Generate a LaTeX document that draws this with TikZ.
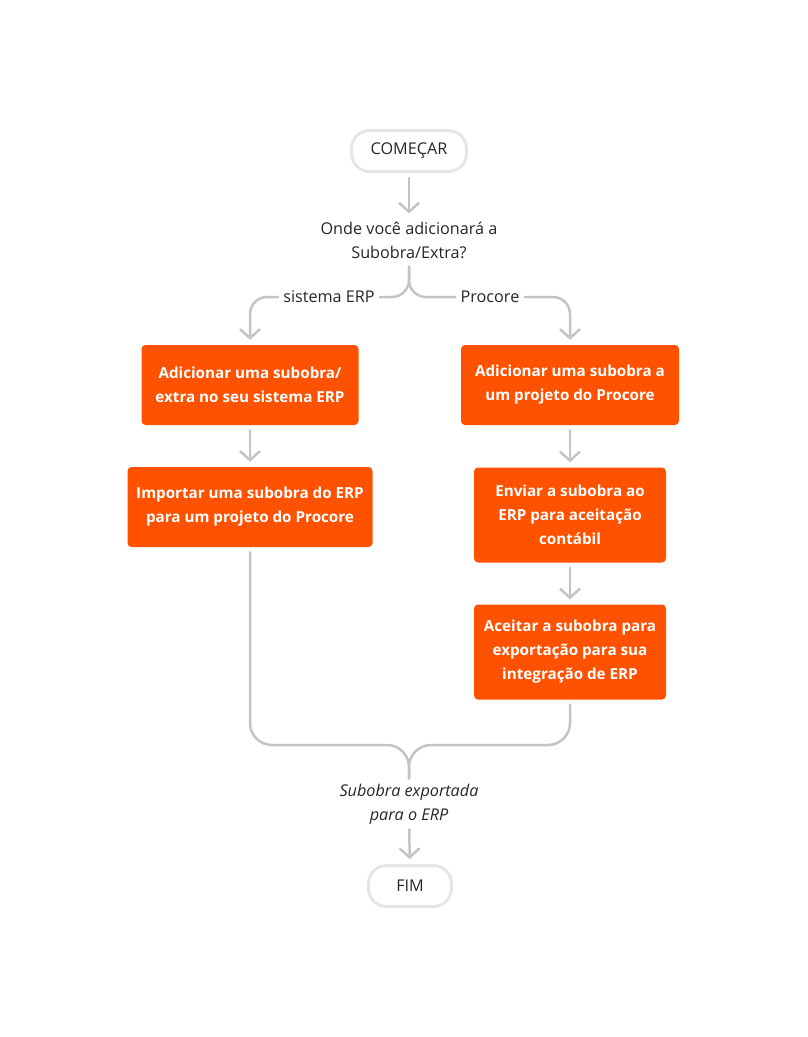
\documentclass[tikz,border=0pt]{standalone}
\usepackage{fontspec}
\setmainfont{Open Sans}
\usetikzlibrary{arrows.meta}
\definecolor{procore}{HTML}{FF5200}
\definecolor{linegray}{HTML}{C4C4C4}
\definecolor{termgray}{HTML}{E6E6E6}
\definecolor{textdark}{HTML}{232729}
\tikzset{
  term/.style={draw=termgray, line width=3pt, fill=white, rounded corners=18pt,
    minimum height=41pt, text=textdark, font=\fontsize{16.2}{24}\selectfont},
  task/.style={fill=procore, rounded corners=4pt, text=white, align=center,
    font=\bfseries\fontsize{15.2}{24}\selectfont},
  plain/.style={text=textdark, align=center, inner sep=5pt,
    font=\fontsize{16.2}{24}\selectfont},
  flow/.style={draw=linegray, line width=2.5pt, line cap=round},
  tip/.style={-{Straight Barb[length=9pt,width=20pt]}},
}
\begin{document}
\begin{tikzpicture}[x=1pt,y=-1pt]
  \useasboundingbox (0,0) rectangle (807,1037);
  \node[term, minimum width=115pt] (start) at (409,151) {COMEÇAR};
  \node[plain] (ask) at (409,240) {Onde você adicionará a\\Subobra/Extra?};
  \node[plain] (erp) at (329,297) {sistema ERP};
  \node[plain] (proc) at (490,297) {Procore};
  \node[task, minimum width=217pt, minimum height=80pt] (addErp) at (250,385)
    {Adicionar uma subobra/\\extra no seu sistema ERP};
  \node[task, minimum width=218pt, minimum height=80pt] (addProc) at (570,385)
    {Adicionar uma subobra a\\um projeto do Procore};
  \node[task, minimum width=245pt, minimum height=80pt] (importErp) at (250,507)
    {Importar uma subobra do ERP\\para um projeto do Procore};
  \node[task, minimum width=192pt, minimum height=95pt] (sendErp) at (570,515)
    {Enviar a subobra ao\\ERP para aceitação\\contábil};
  \node[task, minimum width=192pt, minimum height=95pt] (acceptProc) at (570,652)
    {Aceitar a subobra para\\exportação para sua\\integração de ERP};
  \node[plain, font=\itshape\fontsize{16.2}{24}\selectfont] (done) at (409,804)
    {Subobra exportada\\para o ERP};
  \node[term, minimum width=83pt] (finish) at (410,886) {FIM};
  \coordinate (join) at (409,745);
  \begin{scope}[flow]
    \draw[tip, shorten <=5pt, shorten >=3pt] (start) -- (ask);
    \draw[rounded corners=17pt, shorten <=3pt] (ask.south) |- (erp.east);
    \draw[rounded corners=17pt, shorten <=3pt] (ask.south) |- (proc.west);
    \draw[tip, rounded corners=17pt, shorten >=5pt] (erp.west) -| (addErp.north);
    \draw[tip, rounded corners=17pt, shorten >=5pt] (proc.east) -| (addProc.north);
    \draw[tip, shorten <=5pt, shorten >=5pt] (addErp) -- (importErp);
    \draw[tip, shorten <=5pt, shorten >=5pt] (addProc) -- (sendErp);
    \draw[tip, shorten <=5pt, shorten >=5pt] (sendErp) -- (acceptProc);
    \draw[rounded corners=22pt, shorten <=5pt] (importErp.south) |- (join) -- (done.north);
    \draw[rounded corners=22pt, shorten <=5pt] (acceptProc.south) |- (join) -- (done.north);
    \draw[tip, shorten >=5pt] (done) -- (finish);
  \end{scope}
\end{tikzpicture}
\end{document}
